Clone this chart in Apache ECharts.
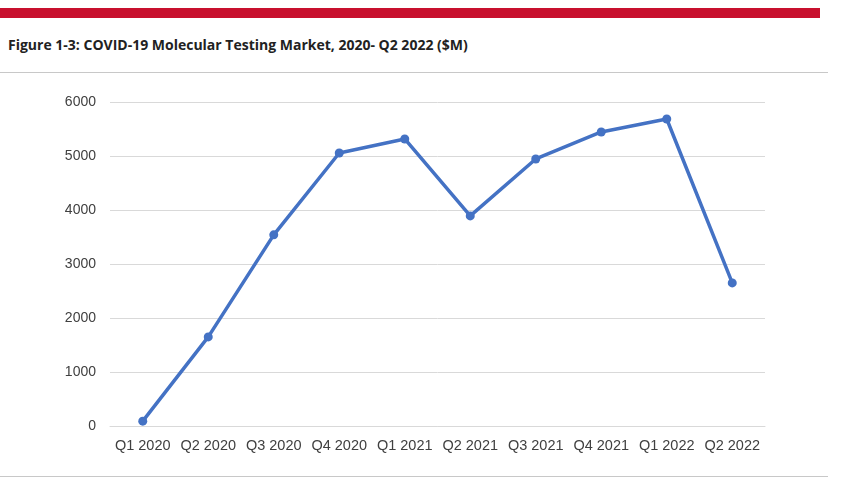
<!DOCTYPE html>
<html><head><meta charset="utf-8">
<script src="https://cdn.jsdelivr.net/npm/echarts@6/dist/echarts.min.js"></script>
<style>
body{margin:0;background:#fff;width:865px;height:496px;position:relative;font-family:"Liberation Sans",Arial,sans-serif}
#bar{position:absolute;left:0;top:8px;width:820px;height:10px;background:#c8102e}
#title{position:absolute;left:8px;top:35px;font-size:14px;font-weight:bold;color:#222;font-family:"Open Sans","DejaVu Sans",sans-serif}
.rule{position:absolute;left:0;width:828px;height:1px;background:#c8c8c8}
#chart{position:absolute;left:0;top:75px;width:865px;height:400px}
</style></head><body>
<div id="bar"></div>
<div id="title">Figure 1-3: COVID-19 Molecular Testing Market, 2020- Q2 2022 ($M)</div>
<div class="rule" style="top:72px"></div>
<div class="rule" style="top:476px"></div>
<div id="chart"></div>
<script>
var quarters = ['Q1 2020','Q2 2020','Q3 2020','Q4 2020','Q1 2021','Q2 2021','Q3 2021','Q4 2021','Q1 2022','Q2 2022'];
var market = [90, 1650, 3540, 5055, 5315, 3890, 4945, 5445, 5685, 2650];
var myChart = echarts.init(document.getElementById('chart'));
myChart.setOption({
    animation: false,
    grid: {left: 110, right: 100, top: 27, bottom: 49},
    xAxis: {
        type: 'category', data: quarters, boundaryGap: true,
        axisLine: {lineStyle: {color: '#d9d9d9'}}, axisTick: {show: false},
        axisLabel: {color: '#404040', fontSize: 14.5, interval: 0, margin: 12}
    },
    yAxis: {
        type: 'value', min: 0, max: 6000, interval: 1000,
        axisLabel: {color: '#404040', fontSize: 14, margin: 14, formatter: function (v) { return String(v); }},
        splitLine: {lineStyle: {color: '#d9d9d9'}}
    },
    series: [{
        type: 'line', data: market,
        lineStyle: {color: '#4472c4', width: 3.5},
        itemStyle: {color: '#4472c4'},
        symbol: 'circle', symbolSize: 9
    }]
});
</script>
</body></html>
